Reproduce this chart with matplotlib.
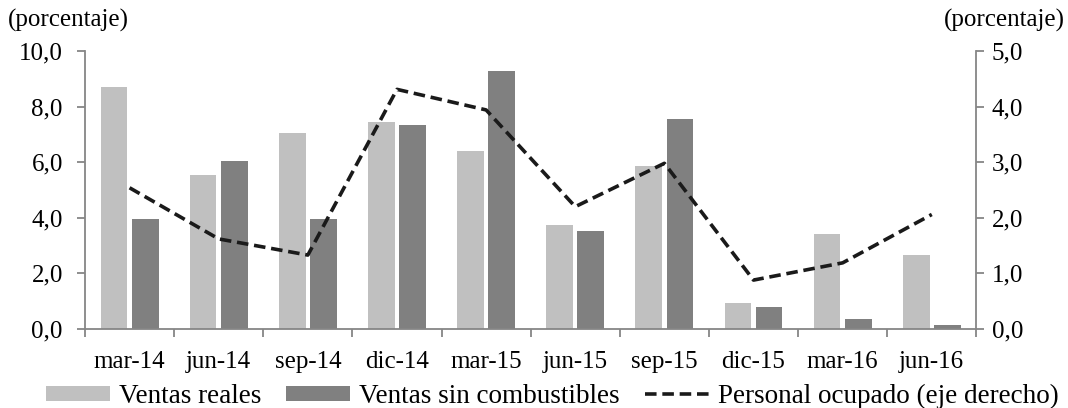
import numpy as np
import matplotlib
matplotlib.use("Agg")
import matplotlib.pyplot as plt
from matplotlib.ticker import FixedLocator, NullFormatter

plt.rcParams["font.family"] = ["Liberation Serif", "DejaVu Serif"]

categories = ["mar-14", "jun-14", "sep-14", "dic-14", "mar-15",
              "jun-15", "sep-15", "dic-15", "mar-16", "jun-16"]
ventas_reales = [8.7, 5.55, 7.05, 7.45, 6.4, 3.75, 5.85, 0.95, 3.4, 2.67]
ventas_sin_comb = [3.97, 6.03, 3.97, 7.33, 9.27, 3.53, 7.55, 0.8, 0.37, 0.15]
personal_ocupado = [2.54, 1.62, 1.33, 4.31, 3.94, 2.2, 2.98, 0.88, 1.19, 2.06]

LIGHT = "#c0c0c0"
DARK = "#808080"
SPINE = "#868686"
FS = 18
LEG_FS = 19.5

fig = plt.figure(figsize=(10.68, 4.08), dpi=100)
ax = fig.add_axes([0.0796, 0.1936, 0.8346, 0.6814])
ax2 = ax.twinx()

x = np.arange(len(categories))
w = 0.30
ax.bar(x - 0.175, ventas_reales, w, color=LIGHT, label="Ventas reales", zorder=2)
ax.bar(x + 0.175, ventas_sin_comb, w, color=DARK, label="Ventas sin combustibles", zorder=2)
ax2.plot(x, personal_ocupado, color="#1a1a1a", lw=2.6, ls=(0, (3.2, 1.6)),
         label="Personal ocupado (eje derecho)")

ax.set_xlim(-0.5, len(categories) - 0.5)
ax.set_ylim(0, 10)
ax2.set_ylim(0, 5)
ax.set_yticks(np.arange(0, 10.1, 2))
ax.set_yticklabels([f"{v:.1f}".replace(".", ",") for v in np.arange(0, 10.1, 2)], fontsize=FS)
ax2.set_yticks(np.arange(0, 5.1, 1))
ax2.set_yticklabels([f"{v:.1f}".replace(".", ",") for v in np.arange(0, 5.1, 1)], fontsize=FS)

# ticks between categories, labels centred on them
ax.xaxis.set_major_locator(FixedLocator(np.arange(-0.5, len(categories), 1)))
ax.xaxis.set_major_formatter(NullFormatter())
ax.xaxis.set_minor_locator(FixedLocator(x))
ax.set_xticklabels(categories, minor=True, fontsize=FS)
ax.tick_params(axis="x", which="minor", length=0, pad=16)
ax.tick_params(axis="x", which="major", length=6, color=SPINE, width=1.3)
ax.tick_params(axis="y", length=6, color=SPINE, width=1.3, pad=10)
ax2.tick_params(axis="y", length=6, color=SPINE, width=1.3, pad=5)

for a in (ax, ax2):
    a.spines["top"].set_visible(False)
    for s in ("left", "right", "bottom"):
        a.spines[s].set_color(SPINE)
        a.spines[s].set_linewidth(1.3)
ax.spines["right"].set_visible(False)
ax2.spines["left"].set_visible(False)
ax2.spines["bottom"].set_visible(False)

fig.text(0.007, 0.95, "(porcentaje)", fontsize=FS, ha="left", va="center")
fig.text(0.997, 0.95, "(porcentaje)", fontsize=FS, ha="right", va="center")

h1, l1 = ax.get_legend_handles_labels()
h2, l2 = ax2.get_legend_handles_labels()
fig.legend(h1 + h2, l1 + l2, loc="center", bbox_to_anchor=(0.517, 0.028), ncol=3,
           frameon=False, fontsize=LEG_FS, handlelength=2.37, handleheight=0.5,
           columnspacing=0.92, handletextpad=0.33, borderpad=0, borderaxespad=0)

fig.savefig("out.png", dpi=100)
